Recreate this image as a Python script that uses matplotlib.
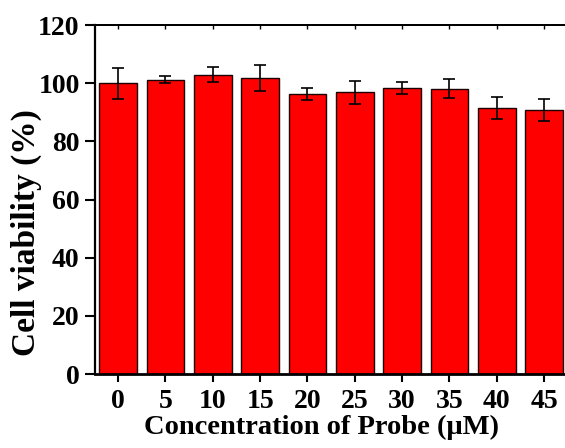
import matplotlib.pyplot as plt
import numpy as np

# cell viability after incubation with probe
concentrations = ['0', '5', '10', '15', '20', '25', '30', '35', '40', '45']
viability = [100.0, 101.2, 103.0, 101.9, 96.4, 96.9, 98.4, 98.1, 91.6, 90.7]
viability_err = [5.3, 1.2, 2.7, 4.4, 2.0, 4.0, 2.1, 3.3, 3.8, 3.8]

plt.rcParams['font.family'] = ['Liberation Serif', 'DejaVu Serif']
plt.rcParams['font.weight'] = 'bold'

fig = plt.figure(figsize=(5.65, 4.48), dpi=100)
axis = fig.add_axes([0.168, 0.165, 0.837, 0.779])

x = np.arange(len(concentrations))
axis.bar(x, viability, width=0.8, color='#ff0000', edgecolor='#1a0000',
         linewidth=1.0, zorder=2)
axis.errorbar(x, viability, yerr=viability_err, fmt='none', ecolor='black',
              elinewidth=1.2, capsize=4, capthick=1.2, zorder=3)

axis.set_xlim(-0.49, 9.5)
axis.set_ylim(0, 120)
axis.set_xticks(x)
axis.set_xticklabels(concentrations)
axis.set_yticks(np.arange(0, 121, 20))

axis.tick_params(axis='both', labelsize=20, width=1.5)
axis.tick_params(axis='y', length=7, pad=4)
axis.tick_params(axis='x', length=6, pad=5, direction='out')
for lbl in axis.get_xticklabels() + axis.get_yticklabels():
    lbl.set_fontweight('bold')

# small inward ticks along the top frame line
top = axis.secondary_xaxis('top')
top.set_xticks(x)
top.tick_params(direction='in', length=3, width=1, labeltop=False)
top.spines['top'].set_linewidth(1.4)

axis.spines['right'].set_visible(False)
axis.spines['left'].set_linewidth(1.6)
axis.spines['bottom'].set_linewidth(2.0)
axis.spines['top'].set_linewidth(1.4)

axis.set_xlabel('Concentration of Probe (\u03bcM)', fontsize=20.5,
                fontweight='bold')
axis.set_ylabel('Cell viability (%)', fontsize=24, fontweight='bold')
axis.xaxis.set_label_coords(0.479, -0.116)
axis.yaxis.set_label_coords(-0.112, 0.405)

fig.savefig('out.png', dpi=100)
